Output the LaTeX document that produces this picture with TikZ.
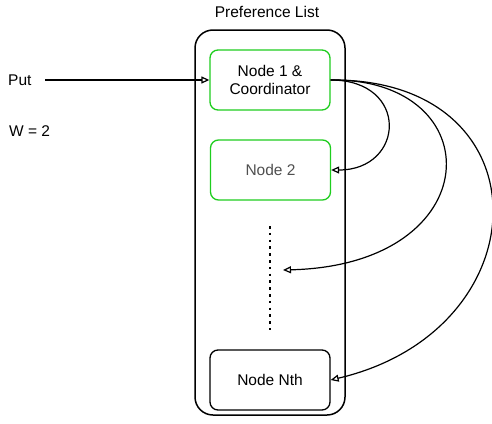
\documentclass[tikz,border=0pt]{standalone}
\usepackage{fontspec}
\setmainfont{Liberation Sans}
\usetikzlibrary{arrows.meta}
\begin{document}
\begin{tikzpicture}[x=1pt,y=-1pt,
  every node/.style={font=\fontsize{15.5}{18.5}\selectfont},
  box/.style={draw, rounded corners=8pt, minimum width=120pt, minimum height=60pt,
    align=center, inner sep=0pt, line width=1.3pt},
  greenbox/.style={box, draw={rgb,255:red,30;green,205;blue,30}},
  holder/.style={draw, rounded corners=18pt, minimum width=150pt, minimum height=385pt,
    inner sep=0pt, line width=1.5pt},
  link/.style={draw, line width=1.2pt, -{Triangle[open,length=8pt,width=7pt]}},
  plain/.style={inner sep=0pt}]
  \useasboundingbox (0,0) rectangle (492,423);

  % container holding the preference list
  \node[holder] (list) at (270,222.5) {};
  \node[plain] (title) at (267,12) {Preference List};

  % nodes of the list
  \node[greenbox] (n1) at (270,80) {Node 1 \&\\Coordinator};
  \node[greenbox, text={rgb,255:red,80;green,80;blue,80}] (n2) at (270.5,170) {Node 2};
  \node[box] (nth) at (270,380) {Node Nth};

  % ellipsis between node 2 and node N
  \coordinate (dtop) at (270,226);
  \coordinate (dbot) at (270,330);
  \draw[line width=2.6pt, dash pattern=on 2.6pt off 4.2pt] (dtop) -- (dbot);
  \coordinate (dmid) at (283,270);

  % request side
  \node[plain, anchor=west] (put) at (8,80) {Put};
  \node[plain, anchor=west] (w) at (9,131) {W = 2};
  \coordinate (pstart) at (45,80);
  \draw[link] (pstart) -- (n1.west);

  % replication from the coordinator
  \draw[link] (n1.east) .. controls (410,80) and (405,170) .. (n2.east);
  \draw[link] (n1.east) .. controls (492,78) and (490,265) .. (dmid);
  \draw[link] (n1.east) .. controls (548,78) and (544,330) .. (nth.east);
\end{tikzpicture}
\end{document}
